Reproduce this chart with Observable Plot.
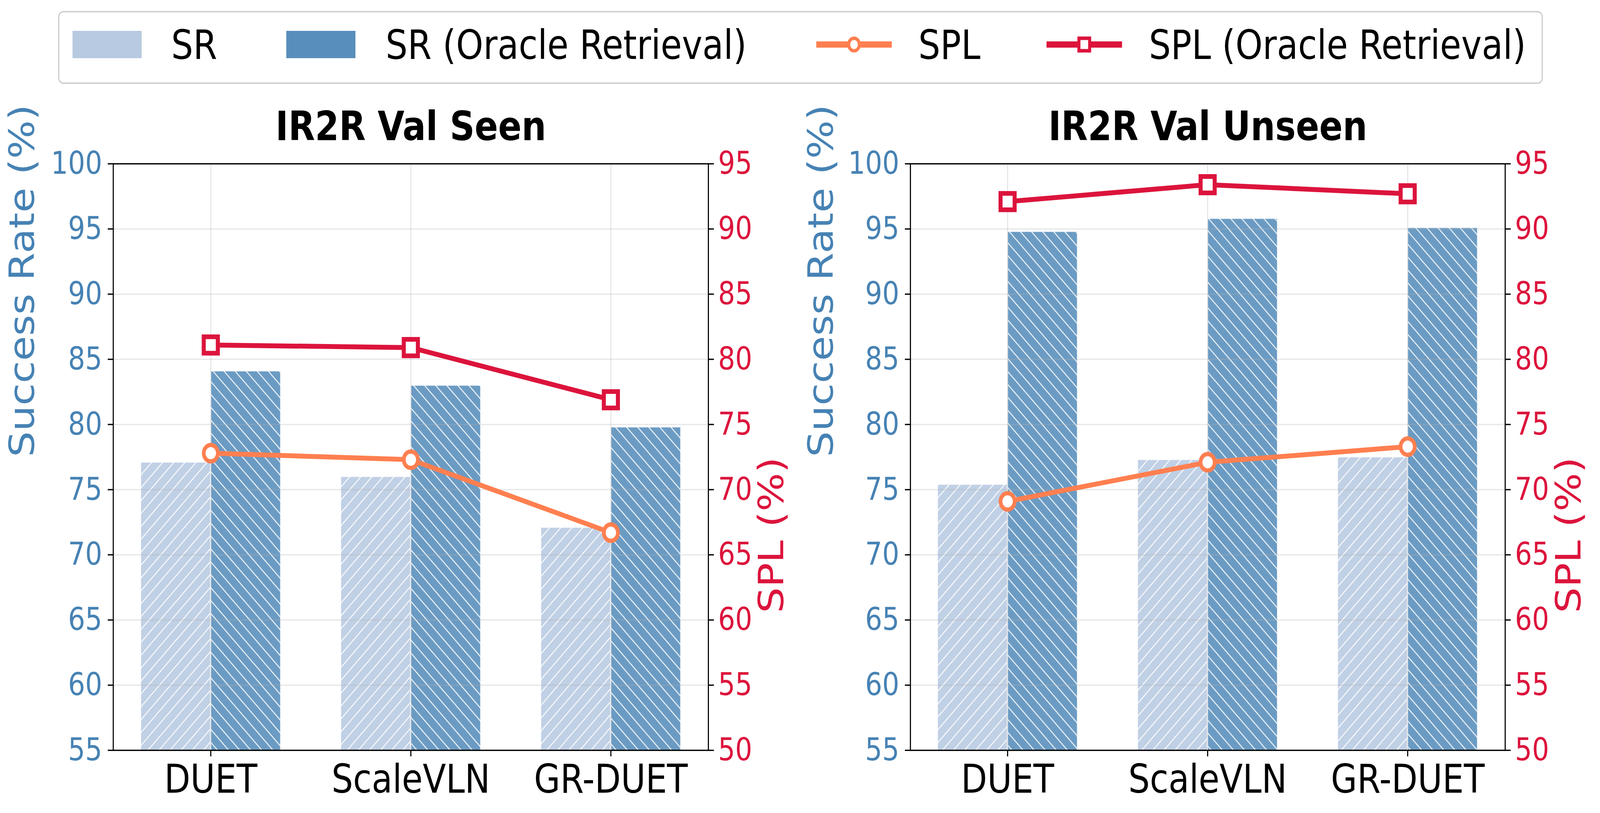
<!DOCTYPE html>
<html>
<head>
<meta charset="utf-8">
<script src="https://cdn.jsdelivr.net/npm/d3@7"></script>
<script src="https://cdn.jsdelivr.net/npm/@observablehq/plot@0.6"></script>
<style>
html, body { margin: 0; padding: 0; background: #fff; overflow: hidden; }
#page { position: absolute; left: 0; top: 0; width: 4767px; height: 2082px; overflow: hidden; font-family: "DejaVu Sans", sans-serif; background: #fff; transform-origin: 0 0; }
.panel { position: absolute; top: 250px; height: 1832px; }
.panel svg { position: absolute; left: 0; top: 0; max-width: none; }
#legend { position: absolute; left: 0; top: 0; }
</style>
</head>
<body>
<div id="page"></div>
<script>
// ---------- data ----------
const categories = ["DUET", "ScaleVLN", "GR-DUET"];

const seenSR = [77.1, 76.0, 72.1];
const seenSROracle = [84.1, 83.0, 79.8];
const seenSPL = [72.8, 72.3, 66.7];
const seenSPLOracle = [81.1, 80.9, 76.9];

const unseenSR = [75.4, 77.3, 77.5];
const unseenSROracle = [94.8, 95.8, 95.1];
const unseenSPL = [69.1, 72.1, 73.3];
const unseenSPLOracle = [92.1, 93.4, 92.7];

const srTicks = [55, 60, 65, 70, 75, 80, 85, 90, 95, 100];
const splTicks = [50, 55, 60, 65, 70, 75, 80, 85, 90, 95];
const srDomain = [55, 100];
const splDomain = [50, 95];

const panelTitles = ["IR2R Val Seen", "IR2R Val Unseen"];
const leftAxisLabel = "Success Rate (%)";
const rightAxisLabel = "SPL (%)";
const legendLabels = ["SR", "SR (Oracle Retrieval)", "SPL", "SPL (Oracle Retrieval)"];

// ---------- style ----------
const C_LIGHT = "#B0C4DE";   // lightsteelblue
const C_DARK = "#4682B4";    // steelblue
const C_SPL = "#FF7F50";     // coral
const C_SPLO = "#DC143C";    // crimson
const FONT = "DejaVu Sans";

const page = document.getElementById("page");

function makeDefs(id) {
  return () => {
    const ns = "http://www.w3.org/2000/svg";
    const defs = document.createElementNS(ns, "defs");
    const s = 33;
    const specs = [
      [id + "-light", C_LIGHT, `M${-s/4},${s/4}L${s/4},${-s/4}M0,${s}L${s},0M${3*s/4},${5*s/4}L${5*s/4},${3*s/4}`],
      [id + "-dark", C_DARK, `M${-s/4},${3*s/4}L${s/4},${5*s/4}M0,0L${s},${s}M${3*s/4},${-s/4}L${5*s/4},${s/4}`]
    ];
    for (const [pid, color, d] of specs) {
      const p = document.createElementNS(ns, "pattern");
      p.setAttribute("id", pid);
      p.setAttribute("patternUnits", "userSpaceOnUse");
      p.setAttribute("width", s);
      p.setAttribute("height", s);
      const r = document.createElementNS(ns, "rect");
      r.setAttribute("width", s);
      r.setAttribute("height", s);
      r.setAttribute("fill", color);
      r.setAttribute("fill-opacity", 0.8);
      p.appendChild(r);
      const path = document.createElementNS(ns, "path");
      path.setAttribute("d", d);
      path.setAttribute("stroke", "white");
      path.setAttribute("stroke-opacity", 0.85);
      path.setAttribute("stroke-width", 3);
      path.setAttribute("fill", "none");
      p.appendChild(path);
      defs.appendChild(p);
    }
    return defs;
  };
}

function panel({left, width, ml, mr, title, sr, srO, spl, splO, id, leftLabelDx, rightLabelDx}) {
  const H = 1832, mt = 169, mb = 161;
  const rows = categories.map((c, i) => ({cat: c, sr: sr[i], srO: srO[i], spl: spl[i], splO: splO[i]}));
  const innerW = width - ml - mr;
  const padIn = 0.3, padOut = 0.135;
  const step = innerW / (categories.length - padIn + 2 * padOut);
  const half = step * (1 - padIn) / 2;
  const xOpts = {type: "band", domain: categories, paddingInner: padIn, paddingOuter: padOut, align: 0.5, axis: null};
  const common = {
    width, height: H, marginLeft: ml, marginRight: mr, marginTop: mt, marginBottom: mb,
    style: {fontFamily: FONT, background: "transparent", overflow: "visible"}
  };

  const base = Plot.plot({
    ...common,
    x: xOpts,
    y: {domain: srDomain, axis: null},
    marks: [
      makeDefs(id),
      Plot.barY(rows, {x: "cat", y: "sr", fill: `url(#${id}-light)`, insetLeft: 0, insetRight: half,
        stroke: "white", strokeOpacity: 0.8, strokeWidth: 3, clip: true}),
      Plot.barY(rows, {x: "cat", y: "srO", fill: `url(#${id}-dark)`, insetLeft: half, insetRight: 0,
        stroke: "white", strokeOpacity: 0.8, strokeWidth: 3, clip: true}),
      Plot.gridY(srTicks, {stroke: "#b0b0b0", strokeOpacity: 0.3, strokeWidth: 3.3}),
      Plot.gridX(categories, {stroke: "#b0b0b0", strokeOpacity: 0.3, strokeWidth: 3.3}),
      Plot.frame({stroke: "black", strokeWidth: 3.3}),
      Plot.axisY(srTicks, {anchor: "left", label: null, tickSize: 16, tickPadding: 17,
        color: C_DARK, stroke: "black", strokeWidth: 3.3, fontSize: 80}),
      Plot.axisX(categories, {anchor: "bottom", label: null, tickSize: 16, tickPadding: 21,
        color: "black", stroke: "black", strokeWidth: 3.3, fontSize: 101}),
      Plot.text([title], {text: d => d, frameAnchor: "top", dy: -61, lineAnchor: "bottom",
        fontSize: 103, fontWeight: "bold", fill: "black"}),
      Plot.text([leftAxisLabel], {text: d => d, frameAnchor: "left", rotate: -90, dx: leftLabelDx,
        lineAnchor: "middle", fontSize: 104, fill: C_DARK})
    ]
  });

  const over = Plot.plot({
    ...common,
    x: xOpts,
    y: {domain: splDomain, axis: null},
    marks: [
      Plot.axisY(splTicks, {anchor: "right", label: null, tickSize: 16, tickPadding: 13,
        color: C_SPLO, stroke: "black", strokeWidth: 3.3, fontSize: 80}),
      Plot.line(rows, {x: "cat", y: "spl", stroke: C_SPL, strokeWidth: 12.5}),
      Plot.dot(rows, {x: "cat", y: "spl", symbol: "circle", r: 21, fill: "white", stroke: C_SPL, strokeWidth: 11}),
      Plot.line(rows, {x: "cat", y: "splO", stroke: C_SPLO, strokeWidth: 12.5}),
      Plot.dot(rows, {x: "cat", y: "splO", symbol: "square", r: 23.7, fill: "white", stroke: C_SPLO, strokeWidth: 12}),
      Plot.text([rightAxisLabel], {text: d => d, frameAnchor: "right", rotate: -90, dx: rightLabelDx,
        lineAnchor: "middle", fontSize: 104, fill: C_SPLO})
    ]
  });

  const div = document.createElement("div");
  div.className = "panel";
  div.style.left = left + "px";
  div.style.width = width + "px";
  div.appendChild(base);
  div.appendChild(over);
  page.appendChild(div);
}

panel({left: 0, width: 2400, ml: 337, mr: 290, title: panelTitles[0],
  sr: seenSR, srO: seenSROracle, spl: seenSPL, splO: seenSPLOracle, id: "seen",
  leftLabelDx: -270, rightLabelDx: 190});
panel({left: 2400, width: 2367, ml: 312, mr: 283, title: panelTitles[1],
  sr: unseenSR, srO: unseenSROracle, spl: unseenSPL, splO: unseenSPLOracle, id: "unseen",
  leftLabelDx: -264, rightLabelDx: 191});

// ---------- legend ----------
const lg = d3.create("svg").attr("id", "legend").attr("width", 4767).attr("height", 240)
  .style("font-family", FONT);
lg.append("rect").attr("x", 175).attr("y", 30).attr("width", 4420).attr("height", 183)
  .attr("rx", 14).attr("fill", "white").attr("stroke", "#cccccc").attr("stroke-width", 3.5);
const cy = 114, baseY = 151, fs = 103;
[[216, C_LIGHT, 510, legendLabels[0]], [853, C_DARK, 1149, legendLabels[1]]].forEach(([x, col, tx, label]) => {
  lg.append("rect").attr("x", x).attr("y", 79).attr("width", 206).attr("height", 70)
    .attr("fill", col).attr("fill-opacity", 0.9);
  lg.append("text").attr("x", tx).attr("y", baseY).attr("font-size", fs).attr("fill", "black").text(label);
});
[[2432, C_SPL, "circle", 2736, legendLabels[2]], [3118, C_SPLO, "square", 3423, legendLabels[3]]].forEach(([x, col, sym, tx, label]) => {
  lg.append("line").attr("x1", x).attr("x2", x + 225).attr("y1", cy).attr("y2", cy)
    .attr("stroke", col).attr("stroke-width", 16);
  const mx = x + 112.5;
  if (sym === "circle") {
    lg.append("circle").attr("cx", mx).attr("cy", cy).attr("r", 16).attr("fill", "white")
      .attr("stroke", col).attr("stroke-width", 9);
  } else {
    lg.append("rect").attr("x", mx - 16).attr("y", cy - 16).attr("width", 32).attr("height", 32)
      .attr("fill", "white").attr("stroke", col).attr("stroke-width", 9);
  }
  lg.append("text").attr("x", tx).attr("y", baseY).attr("font-size", fs).attr("fill", "black").text(label);
});
page.appendChild(lg.node());

// fit the 4767x2082 design into the actual viewport
const sx = Math.min(1, window.innerWidth / 4767), sy = Math.min(1, window.innerHeight / 2082);
page.style.transform = `scale(${sx}, ${sy})`;
</script>
</body>
</html>
